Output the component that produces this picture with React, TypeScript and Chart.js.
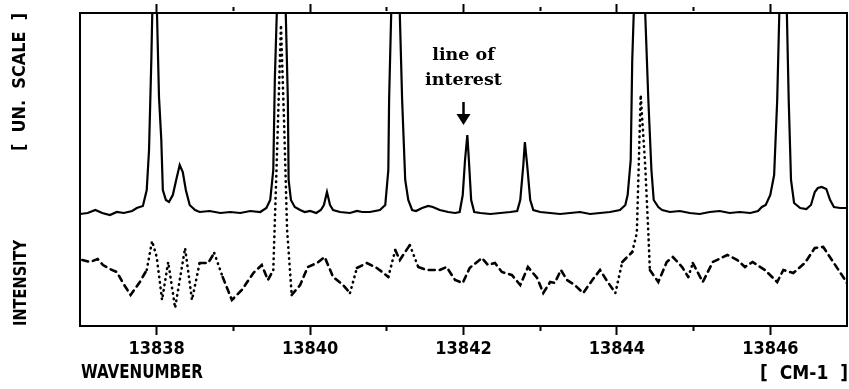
import React, { useEffect, useRef } from "react";
import { Chart, registerables } from "chart.js";

Chart.register(...registerables);

// Upper trace (solid) : wavenumber and intensity (arbitrary units)
const upperX = [
  13837.0, 13837.1, 13837.2, 13837.29, 13837.39, 13837.48, 13837.57, 13837.68, 13837.74, 13837.82,
  13837.87, 13837.9, 13837.93, 13837.97, 13838.03, 13838.06, 13838.08, 13838.12, 13838.16, 13838.21,
  13838.26, 13838.3, 13838.34, 13838.38, 13838.43, 13838.5, 13838.56, 13838.69, 13838.83, 13838.96,
  13839.09, 13839.22, 13839.35, 13839.43, 13839.48, 13839.52, 13839.54, 13839.63, 13839.71, 13839.72,
  13839.75, 13839.8, 13839.87, 13839.93, 13840.0, 13840.08, 13840.14, 13840.18, 13840.22, 13840.26,
  13840.3, 13840.39, 13840.52, 13840.61, 13840.68, 13840.78, 13840.91, 13840.98, 13841.02, 13841.03,
  13841.11, 13841.2, 13841.24, 13841.28, 13841.33, 13841.38, 13841.46, 13841.54, 13841.6, 13841.69,
  13841.8, 13841.89, 13841.95, 13841.99, 13842.02, 13842.05, 13842.07, 13842.1, 13842.14, 13842.22,
  13842.35, 13842.48, 13842.61, 13842.7, 13842.74, 13842.78, 13842.8, 13842.83, 13842.87, 13842.91,
  13843.0, 13843.13, 13843.26, 13843.39, 13843.52, 13843.65, 13843.78, 13843.91, 13844.04, 13844.11,
  13844.14, 13844.18, 13844.2, 13844.29, 13844.41, 13844.45, 13844.48, 13844.54, 13844.59, 13844.69,
  13844.82, 13844.95, 13845.08, 13845.21, 13845.34, 13845.47, 13845.6, 13845.74, 13845.84, 13845.89,
  13845.94, 13846.0, 13846.05, 13846.09, 13846.17, 13846.24, 13846.27, 13846.31, 13846.39, 13846.47,
  13846.53, 13846.58, 13846.62, 13846.67, 13846.73, 13846.78, 13846.83, 13846.91, 13847.0,
];
const upperY = [
  112, 113, 116, 113, 111, 114, 113, 115, 118, 120,
  136, 176, 266, 420, 229, 186, 136, 126, 124, 131,
  148, 161, 154, 136, 121, 116, 114, 115, 113, 114,
  113, 115, 114, 118, 126, 156, 246, 480, 226, 146,
  126, 119, 116, 114, 115, 113, 116, 121, 134, 121,
  116, 114, 113, 115, 114, 114, 116, 121, 156, 226,
  480, 226, 146, 126, 116, 115, 118, 120, 119, 116,
  114, 113, 114, 131, 166, 191, 166, 126, 114, 113,
  112, 113, 114, 115, 126, 161, 184, 161, 126, 116,
  114, 113, 112, 113, 114, 112, 113, 114, 116, 121,
  131, 166, 266, 480, 226, 156, 126, 119, 116, 114,
  115, 113, 112, 114, 115, 113, 114, 113, 115, 119,
  121, 131, 151, 226, 480, 226, 146, 123, 118, 117,
  121, 134, 138, 139, 137, 126, 119, 118, 118,
];

// Lower trace (dashed / dotted)
const lowerX = [
  13837.03, 13837.13, 13837.23, 13837.3, 13837.39, 13837.48, 13837.56, 13837.66, 13837.78, 13837.87,
  13837.94, 13838.0, 13838.07, 13838.15, 13838.24, 13838.37, 13838.46, 13838.56, 13838.67, 13838.75,
  13838.86, 13838.98, 13839.11, 13839.26, 13839.37, 13839.45, 13839.52, 13839.57, 13839.62, 13839.66,
  13839.7, 13839.76, 13839.87, 13839.97, 13840.09, 13840.19, 13840.3, 13840.43, 13840.52, 13840.61,
  13840.74, 13840.87, 13840.94, 13841.02, 13841.11, 13841.17, 13841.3, 13841.41, 13841.52, 13841.69,
  13841.78, 13841.89, 13841.99, 13842.08, 13842.24, 13842.32, 13842.41, 13842.5, 13842.63, 13842.74,
  13842.84, 13842.96, 13843.04, 13843.13, 13843.19, 13843.27, 13843.35, 13843.45, 13843.56, 13843.68,
  13843.78, 13843.88, 13843.98, 13844.07, 13844.2, 13844.26, 13844.31, 13844.37, 13844.41, 13844.43,
  13844.54, 13844.65, 13844.73, 13844.85, 13844.93, 13844.99, 13845.12, 13845.25, 13845.44, 13845.57,
  13845.67, 13845.77, 13845.93, 13846.09, 13846.17, 13846.3, 13846.45, 13846.58, 13846.69, 13846.82,
  13846.95, 13847.0,
];
const lowerY = [
  66, 64, 67, 61, 57, 54, 43, 31, 44, 56,
  85, 69, 26, 64, 18, 78, 26, 63, 63, 73,
  49, 26, 36, 53, 61, 46, 56, 176, 301, 206,
  96, 31, 41, 59, 63, 69, 49, 41, 33, 58,
  63, 58, 54, 49, 76, 66, 81, 59, 56, 56,
  59, 46, 43, 58, 68, 61, 63, 54, 51, 41,
  59, 48, 33, 44, 43, 56, 46, 41, 33, 46,
  56, 44, 33, 64, 74, 93, 231, 159, 93, 56,
  44, 64, 69, 59, 49, 63, 44, 64, 71, 66,
  59, 64, 56, 44, 56, 53, 63, 78, 79, 64,
  49, 43,
];

const xTicks = [13838, 13839, 13840, 13841, 13842, 13843, 13844, 13845, 13846];
const xMin = 13837;
const xMax = 13847;
const yMin = 0;
const yMax = 313;
const markerX = 13842;
const markerLines = ["line of", "interest"];
const xTitleLeft = "WAVENUMBER";
const xTitleRight = "[  CM-1  ]";
const yTitleLow = "INTENSITY";
const yTitleHigh = "[  UN.  SCALE  ]";

const SANS = "'Liberation Sans Narrow', 'DejaVu Sans Condensed', 'Liberation Sans', sans-serif";

export default function App() {
  const ref = useRef<HTMLCanvasElement | null>(null);

  useEffect(() => {
    if (!ref.current) return;
    const tickSetter = (scale: any) => {
      scale.ticks = xTicks.map((v) => ({ value: v }));
    };
    const isMinor = (c: any) => c.tick && c.tick.value % 2 !== 0;
    const fitText = (ctx: any, text: string, x: number, y: number, width: number, align: string) => {
      const w = ctx.measureText(text).width;
      const k = Math.min(1, width / w);
      ctx.save();
      ctx.translate(x, y);
      ctx.scale(k, 1);
      ctx.textAlign = align;
      ctx.fillText(text, 0, 0);
      ctx.restore();
    };
    const textPlugin = {
      id: "texts",
      afterDraw(chart: any) {
        const ctx = chart.ctx;
        const xs = chart.scales.x;
        const ys = chart.scales.y;
        ctx.save();
        ctx.fillStyle = "#000";
        // x titles
        ctx.font = `bold 19px ${SANS}`;
        ctx.textBaseline = "middle";
        fitText(ctx, xTitleLeft, 81, 373, 122, "left");
        fitText(ctx, xTitleRight, 848, 374, 91, "right");
        // y titles (rotated)
        ctx.font = `bold 18px ${SANS}`;
        ctx.save();
        ctx.translate(21, 283);
        ctx.rotate(-Math.PI / 2);
        fitText(ctx, yTitleLow, 0, 0, 86, "center");
        ctx.restore();
        ctx.save();
        ctx.translate(20, 82);
        ctx.rotate(-Math.PI / 2);
        fitText(ctx, yTitleHigh, 0, 0, 138, "center");
        ctx.restore();
        // annotation
        const px = xs.getPixelForValue(markerX);
        ctx.font = "bold 17.5px 'DejaVu Serif', serif";
        ctx.textAlign = "center";
        ctx.textBaseline = "alphabetic";
        ctx.fillText(markerLines[0], px, 60);
        ctx.fillText(markerLines[1], px, 85);
        const tipY = ys.getPixelForValue(201);
        ctx.strokeStyle = "#000";
        ctx.lineWidth = 2.5;
        ctx.beginPath();
        ctx.moveTo(px, tipY - 23);
        ctx.lineTo(px, tipY - 8);
        ctx.stroke();
        ctx.beginPath();
        ctx.moveTo(px - 7, tipY - 11);
        ctx.lineTo(px + 7, tipY - 11);
        ctx.lineTo(px, tipY);
        ctx.closePath();
        ctx.fill();
        ctx.restore();
      },
    };

    const chart = new Chart(ref.current, {
      type: "line",
      data: {
        datasets: [
          {
            data: upperX.map((x, i) => ({ x, y: upperY[i] })),
            borderColor: "#000",
            borderWidth: 2.2,
            pointRadius: 0,
            tension: 0,
            fill: false,
          },
          {
            data: lowerX.map((x, i) => ({ x, y: lowerY[i] })),
            borderColor: "#000",
            borderWidth: 2.6,
            borderCapStyle: "round",
            pointRadius: 0,
            tension: 0,
            fill: false,
            segment: {
              borderDash: (c: any) => {
                const dx = Math.abs(c.p1.x - c.p0.x) || 0.001;
                const dy = Math.abs(c.p1.y - c.p0.y);
                return dy / dx > 2.5 ? [0.5, 5] : [6, 5];
              },
            },
          },
        ],
      },
      options: {
        animation: false,
        responsive: false,
        events: [],
        layout: { padding: 0 },
        plugins: { legend: { display: false }, tooltip: { enabled: false } },
        scales: {
          x: {
            type: "linear",
            position: "bottom",
            min: xMin,
            max: xMax,
            afterBuildTicks: tickSetter,
            afterFit: (s: any) => {
              s.height = 63;
            },
            grid: {
              display: true,
              drawOnChartArea: false,
              drawTicks: true,
              tickLength: 9,
              tickColor: "#000",
              tickWidth: 2,
              tickBorderDash: (c: any) => (isMinor(c) ? [4, 40] : []),
            },
            border: { display: true, color: "#000", width: 2 },
            ticks: {
              padding: 4,
              color: "#000",
              font: { family: SANS, size: 18, weight: "bold" },
              maxRotation: 0,
              autoSkip: false,
              callback: (v: any) => (Number(v) % 2 === 0 ? String(v) : ""),
            },
          },
          x2: {
            type: "linear",
            position: "top",
            min: xMin,
            max: xMax,
            afterBuildTicks: tickSetter,
            afterFit: (s: any) => {
              s.height = 13;
            },
            grid: {
              display: true,
              drawOnChartArea: false,
              drawTicks: true,
              tickLength: 9,
              tickColor: "#000",
              tickWidth: 2,
              tickBorderDash: (c: any) => (isMinor(c) ? [0, 3, 4, 40] : []),
            },
            border: { display: true, color: "#000", width: 2 },
            ticks: { display: false },
          },
          y: {
            type: "linear",
            position: "left",
            min: yMin,
            max: yMax,
            afterFit: (s: any) => {
              s.width = 80;
            },
            grid: { display: false },
            border: { display: true, color: "#000", width: 2 },
            ticks: { display: false },
          },
          y2: {
            type: "linear",
            position: "right",
            min: yMin,
            max: yMax,
            afterFit: (s: any) => {
              s.width = 2;
            },
            grid: { display: false },
            border: { display: true, color: "#000", width: 2 },
            ticks: { display: false },
          },
        },
      } as any,
      plugins: [textPlugin],
    });
    return () => chart.destroy();
  }, []);

  return (
    <div style={{ position: "fixed", left: 0, top: 0, width: 849, height: 389, background: "#fff" }}>
      <canvas ref={ref} width={849} height={389} style={{ display: "block" }} />
    </div>
  );
}
